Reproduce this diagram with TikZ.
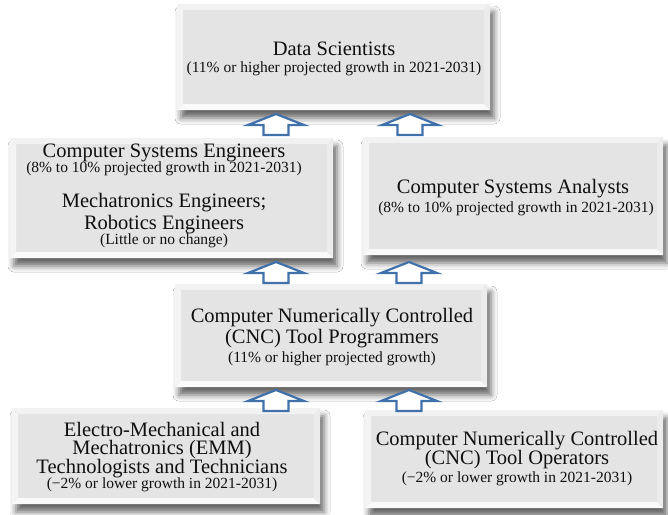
\documentclass[tikz,border=0pt]{standalone}
\usepackage{fontspec}
\setmainfont{Liberation Serif}
\usetikzlibrary{shadows.blur}
\definecolor{boxgray}{RGB}{228,228,228}
\definecolor{bevtop}{RGB}{242,242,242}
\definecolor{bevleft}{RGB}{244,244,244}
\definecolor{bevbot}{RGB}{250,250,250}
\definecolor{bevright}{RGB}{236,236,236}
\definecolor{arrowblue}{RGB}{65,113,170}
\definecolor{txt}{RGB}{15,15,15}
\newcommand{\bw}{6pt}
\tikzset{
  bbox/.style={rectangle, inner sep=0pt, outer sep=0pt, fill=boxgray,
    blur shadow={shadow xshift=4pt, shadow yshift=-8pt, shadow blur radius=6pt, shadow opacity=60},
    path picture={
      \fill[bevtop] (path picture bounding box.north west) -- (path picture bounding box.north east)
        -- ([xshift=-\bw,yshift=-\bw]path picture bounding box.north east) -- ([xshift=\bw,yshift=-\bw]path picture bounding box.north west) -- cycle;
      \fill[bevbot] (path picture bounding box.south west) -- (path picture bounding box.south east)
        -- ([xshift=-\bw,yshift=\bw]path picture bounding box.south east) -- ([xshift=\bw,yshift=\bw]path picture bounding box.south west) -- cycle;
      \fill[bevleft] (path picture bounding box.north west) -- (path picture bounding box.south west)
        -- ([xshift=\bw,yshift=\bw]path picture bounding box.south west) -- ([xshift=\bw,yshift=-\bw]path picture bounding box.north west) -- cycle;
      \fill[bevright] (path picture bounding box.north east) -- (path picture bounding box.south east)
        -- ([xshift=-\bw,yshift=\bw]path picture bounding box.south east) -- ([xshift=-\bw,yshift=-\bw]path picture bounding box.north east) -- cycle;
    }},
  ttl/.style={anchor=base, inner sep=0pt, text=txt, text height=14pt, text depth=3pt, font=\fontsize{20.5}{22}\selectfont},
  sub/.style={anchor=base, inner sep=0pt, text=txt, text height=11pt, text depth=3pt, font=\fontsize{15.5}{17}\selectfont},
  uparr/.pic={\draw[arrowblue, line width=2.2pt, fill=white, line join=miter]
    (-12.5,21) -- (-12.5,11) -- (-28,11) -- (0,0) -- (28,11) -- (12.5,11) -- (12.5,21) -- cycle;}
}
\begin{document}
\begin{tikzpicture}[x=1pt,y=-1pt]
\useasboundingbox (0,0) rectangle (668,514);
\fill[white] (0,0) rectangle (668,514);
% boxes
\node[bbox, minimum width=313, minimum height=106] (ds) at (333.5,57) {};
\node[bbox, minimum width=323, minimum height=120] (cse) at (171.5,198) {};
\node[bbox, minimum width=300, minimum height=118] (csa) at (513,196) {};
\node[bbox, minimum width=312, minimum height=103] (prog) at (331,335.5) {};
\node[bbox, minimum width=308, minimum height=96] (emm) at (166,456) {};
\node[bbox, minimum width=298, minimum height=98] (ops) at (514,459) {};
% arrows
\pic at (276,114) {uparr};
\pic at (410,114) {uparr};
\pic at (276,262) {uparr};
\pic at (409,262) {uparr};
\pic at (276,390) {uparr};
\pic at (409,390) {uparr};
% texts
\node[ttl] (ds1) at (334,55) {Data Scientists};
\node[sub] (ds2) at (334,72) {(11\% or higher projected growth in 2021-2031)};
\node[ttl] (cse1) at (164,157) {Computer Systems Engineers};
\node[sub] (cse2) at (164,172) {(8\% to 10\% projected growth in 2021-2031)};
\node[ttl] (cse3) at (164,207) {Mechatronics Engineers;};
\node[ttl] (cse4) at (164,229) {Robotics Engineers};
\node[sub] (cse5) at (164,244) {(Little or no change)};
\node[ttl] (csa1) at (513,193) {Computer Systems Analysts};
\node[sub] (csa2) at (516,212) {(8\% to 10\% projected growth in 2021-2031)};
\node[ttl] (prog1) at (332,322) {Computer Numerically Controlled};
\node[ttl] (prog2) at (332,343) {(CNC) Tool Programmers};
\node[sub] (prog3) at (332,362) {(11\% or higher projected growth)};
\node[ttl] (emm1) at (162,436) {Electro-Mechanical and};
\node[ttl] (emm2) at (162,454) {Mechatronics (EMM)};
\node[ttl] (emm3) at (162,473) {Technologists and Technicians};
\node[sub] (emm4) at (162,488) {(−2\% or lower growth in 2021-2031)};
\node[ttl] (ops1) at (517,445) {Computer Numerically Controlled};
\node[ttl] (ops2) at (517,464) {(CNC) Tool Operators};
\node[sub] (ops3) at (517,482) {(−2\% or lower growth in 2021-2031)};
\end{tikzpicture}
\end{document}
